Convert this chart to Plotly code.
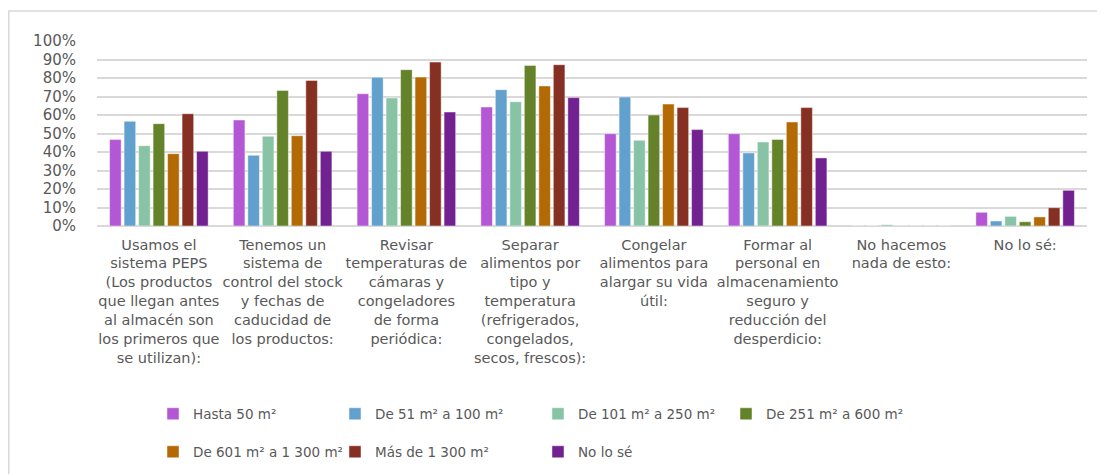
import plotly.graph_objects as go

categories = [
    "Usamos el<br>sistema PEPS<br>(Los productos<br>que llegan antes<br>al almacén son<br>los primeros que<br>se utilizan):",
    "Tenemos un<br>sistema de<br>control del stock<br>y fechas de<br>caducidad de<br>los productos:",
    "Revisar<br>temperaturas de<br>cámaras y<br>congeladores<br>de forma<br>periódica:",
    "Separar<br>alimentos por<br>tipo y<br>temperatura<br>(refrigerados,<br>congelados,<br>secos, frescos):",
    "Congelar<br>alimentos para<br>alargar su vida<br>útil:",
    "Formar al<br>personal en<br>almacenamiento<br>seguro y<br>reducción del<br>desperdicio:",
    "No hacemos<br>nada de esto:",
    "No lo sé:",
]

series_names = [
    "Hasta 50 m²",
    "De 51 m² a 100 m²",
    "De 101 m² a 250 m²",
    "De 251 m² a 600 m²",
    "De 601 m² a 1 300 m²",
    "Más de 1 300 m²",
    "No lo sé",
]

hasta_50 = [0.467, 0.573, 0.715, 0.643, 0.499, 0.499, 0.0, 0.074]
de_51_100 = [0.566, 0.382, 0.804, 0.737, 0.697, 0.395, 0.0, 0.027]
de_101_250 = [0.434, 0.485, 0.692, 0.672, 0.463, 0.454, 0.007, 0.052]
de_251_600 = [0.553, 0.733, 0.845, 0.868, 0.600, 0.468, 0.0, 0.023]
de_601_1300 = [0.391, 0.488, 0.805, 0.757, 0.659, 0.562, 0.0, 0.049]
mas_1300 = [0.607, 0.787, 0.886, 0.872, 0.640, 0.640, 0.0, 0.099]
no_lo_se = [0.404, 0.404, 0.616, 0.694, 0.521, 0.368, 0.0, 0.193]

series_values = [hasta_50, de_51_100, de_101_250, de_251_600, de_601_1300, mas_1300, no_lo_se]

colors = ["#B357D4", "#62A0CD", "#88C3A5", "#638229", "#B36A05", "#863023", "#722290"]

FONT = "DejaVu Sans"
GRAY = "#595959"

# the page body has an 8px margin; the figure is sized to fill the window
OFF = 8
WIN_W, WIN_H = 1105, 474
W, H = WIN_W - OFF, WIN_H - OFF
# plot area in window pixels
PL, PR, PT, PB = 97, 1087, 41, 226
PW = PR - PL
PH = PB - PT
L, R, T, B = PL - OFF, WIN_W - PR, PT - OFF, WIN_H - PB


def px_to_paper_x(px):
    return (px - PL) / PW


def px_to_paper_y(py):
    return (PB - py) / PH


# legend slots (window pixel positions: legend box left, item centre y)
legend_slots = [(153, 414), (335, 414), (538, 414), (726, 414),
                (153, 452), (335, 452), (538, 452)]

fig = go.Figure()
layout_legends = {}
for i, (name, vals, col) in enumerate(zip(series_names, series_values, colors)):
    lname = "legend" if i == 0 else f"legend{i+1}"
    fig.add_trace(go.Bar(
        x=categories, y=vals, name=name,
        marker=dict(color=col, line=dict(color="rgba(255,255,255,0.45)", width=1)),
        legend=lname,
    ))
    lx, ly = legend_slots[i]
    layout_legends[lname] = dict(
        x=px_to_paper_x(lx), y=px_to_paper_y(ly), xanchor="left", yanchor="middle",
        orientation="h", bgcolor="rgba(0,0,0,0)",
        font=dict(family=FONT, size=13.5, color=GRAY),
        itemwidth=30,
    )

fig.update_layout(
    width=W, height=H,
    margin=dict(l=L, r=R, t=T, b=B, autoexpand=False),
    paper_bgcolor="white", plot_bgcolor="white",
    barmode="group", bargap=0.18, bargroupgap=0.2,
    showlegend=True,
    font=dict(family=FONT, color=GRAY),
    xaxis=dict(
        showgrid=False, showline=False, zeroline=False,
        tickfont=dict(family=FONT, size=14.5, color=GRAY),
        tickangle=0, ticks="", automargin=False,
        ticklabelstandoff=8,
    ),
    yaxis=dict(
        range=[0, 1.0], dtick=0.1, tickformat=".0%",
        showgrid=True, gridcolor="#D9D9D9", gridwidth=2,
        zeroline=True, zerolinecolor="#D9D9D9", zerolinewidth=2,
        showline=False, ticks="",
        tickfont=dict(family=FONT, size=15, color=GRAY),
        ticklabelstandoff=20, automargin=False,
    ),
    shapes=[dict(
        type="rect", xref="paper", yref="paper",
        x0=px_to_paper_x(8.8), x1=px_to_paper_x(1104),
        y0=px_to_paper_y(490), y1=px_to_paper_y(11),
        line=dict(color="#D9D9D9", width=1.5), fillcolor="rgba(0,0,0,0)",
        layer="below",
    )],
    **layout_legends,
)

fig.write_html("out.html")
